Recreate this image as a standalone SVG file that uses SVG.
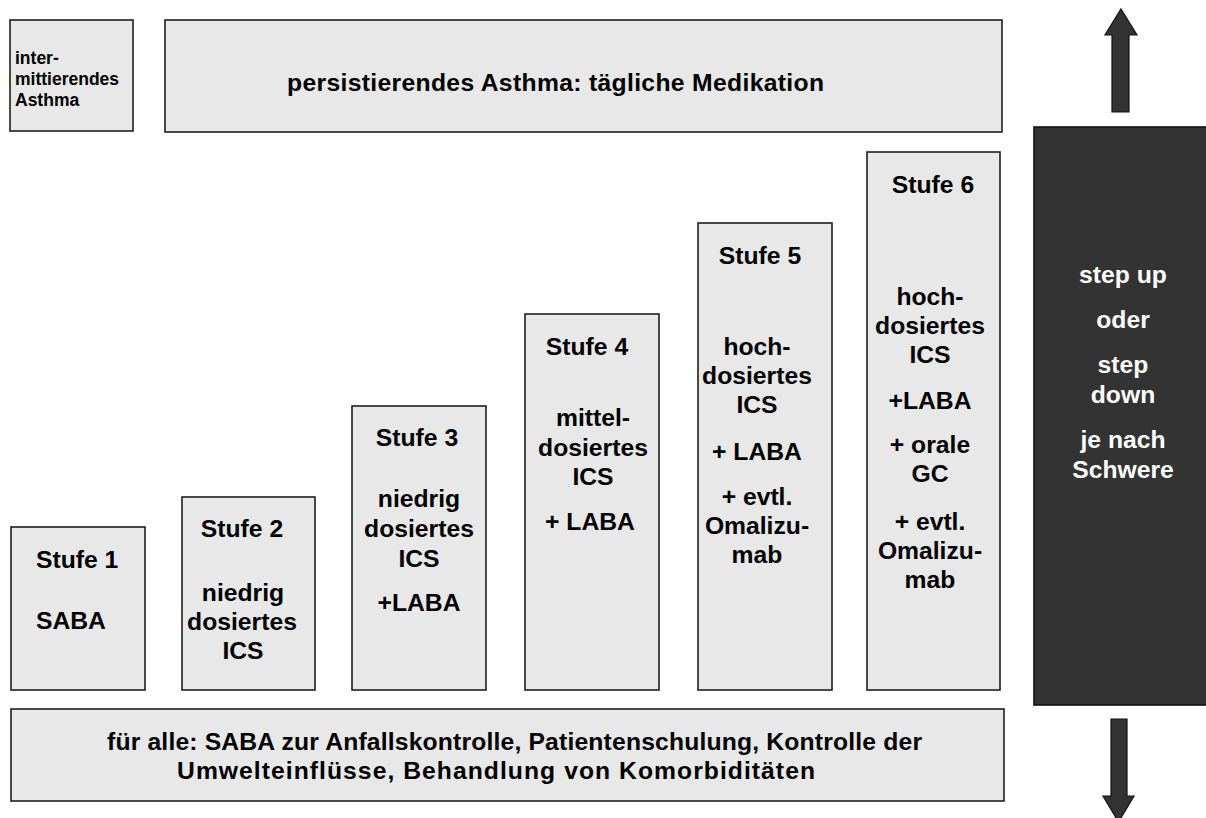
<svg xmlns="http://www.w3.org/2000/svg" width="1206" height="818" viewBox="0 0 1206 818">
<style>
.box{fill:#e8e8e8;stroke:#1e1e1e;stroke-width:1.6}
.dark{fill:#333333;stroke:#111;stroke-width:1.6}
.arr{fill:#333333;stroke:#111;stroke-width:1.2}
text{font-family:"Liberation Sans",Arial,sans-serif;font-weight:bold;font-size:24.7px;fill:#000}
.c{text-anchor:middle}
.w{fill:#fff}
.s{font-size:17.5px}
</style>
<rect width="1206" height="818" fill="#fff"/>
<g id="intermittierend">
<rect class="box" x="10" y="20" width="123" height="111"/>
<text class="s" x="15" y="64">inter-</text>
<text class="s" x="15" y="85">mittierendes</text>
<text class="s" x="15" y="106">Asthma</text>
</g>
<g id="persistierend">
<rect class="box" x="165" y="20" width="837" height="112"/>
<text x="287" y="91" textLength="537" lengthAdjust="spacing">persistierendes Asthma: tägliche Medikation</text>
</g>
<g id="stufe1">
<rect class="box" x="11" y="527" width="134" height="163"/>
<text x="36" y="568">Stufe 1</text>
<text x="36" y="629">SABA</text>
</g>
<g id="stufe2">
<rect class="box" x="182" y="497" width="133" height="193"/>
<text class="c" x="242" y="537">Stufe 2</text>
<text class="c" x="243" y="601">niedrig</text>
<text class="c" x="242" y="630">dosiertes</text>
<text class="c" x="243" y="659">ICS</text>
</g>
<g id="stufe3">
<rect class="box" x="352" y="406" width="134" height="284"/>
<text class="c" x="417" y="446">Stufe 3</text>
<text class="c" x="419" y="507">niedrig</text>
<text class="c" x="419" y="537">dosiertes</text>
<text class="c" x="419" y="567">ICS</text>
<text class="c" x="419" y="611">+LABA</text>
</g>
<g id="stufe4">
<rect class="box" x="525" y="314" width="134" height="376"/>
<text class="c" x="587" y="355">Stufe 4</text>
<text class="c" x="593" y="426">mittel-</text>
<text class="c" x="593" y="456">dosiertes</text>
<text class="c" x="593" y="485">ICS</text>
<text class="c" x="590" y="530">+ LABA</text>
</g>
<g id="stufe5">
<rect class="box" x="698" y="223" width="134" height="467"/>
<text class="c" x="760" y="264">Stufe 5</text>
<text class="c" x="757" y="355">hoch-</text>
<text class="c" x="757" y="384">dosiertes</text>
<text class="c" x="757" y="413">ICS</text>
<text class="c" x="757" y="460">+ LABA</text>
<text class="c" x="757" y="505">+ evtl.</text>
<text class="c" x="757" y="534">Omalizu-</text>
<text class="c" x="757" y="563">mab</text>
</g>
<g id="stufe6">
<rect class="box" x="867" y="152" width="133" height="538"/>
<text class="c" x="933" y="193">Stufe 6</text>
<text class="c" x="930" y="305">hoch-</text>
<text class="c" x="930" y="334">dosiertes</text>
<text class="c" x="930" y="363">ICS</text>
<text class="c" x="930" y="409">+LABA</text>
<text class="c" x="930" y="453">+ orale</text>
<text class="c" x="930" y="482">GC</text>
<text class="c" x="930" y="530">+ evtl.</text>
<text class="c" x="930" y="559">Omalizu-</text>
<text class="c" x="930" y="588">mab</text>
</g>
<g id="basis">
<rect class="box" x="11" y="709" width="993" height="92"/>
<text x="107" y="750" textLength="815" lengthAdjust="spacing">für alle: SABA zur Anfallskontrolle, Patientenschulung, Kontrolle der</text>
<text x="177" y="779" textLength="638" lengthAdjust="spacing">Umwelteinflüsse, Behandlung von Komorbiditäten</text>
</g>
<g id="schwere">
<rect class="dark" x="1034" y="127" width="180" height="578"/>
<text class="c w" x="1123" y="283">step up</text>
<text class="c w" x="1123" y="328">oder</text>
<text class="c w" x="1123" y="373">step</text>
<text class="c w" x="1123" y="403">down</text>
<text class="c w" x="1123" y="448">je nach</text>
<text class="c w" x="1123" y="478">Schwere</text>
</g>
<g id="connectors">
<polygon class="arr" points="1121,9 1137,35 1129,35 1129,112 1112,112 1112,35 1105,35"/>
<polygon class="arr" points="1111,719 1127,719 1127,796 1134,796 1118.5,822 1103,796 1111,796"/>
</g>
</svg>
